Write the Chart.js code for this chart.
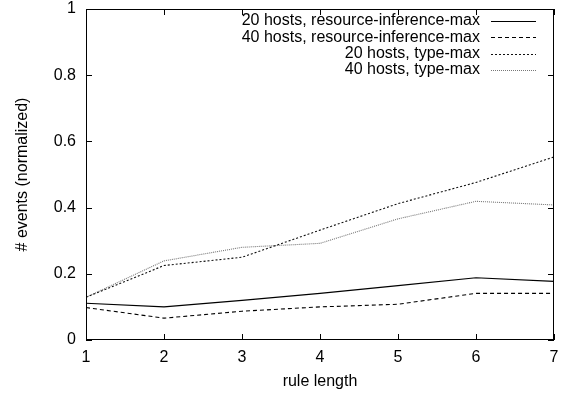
<!DOCTYPE html>
<html>
<head>
<meta charset="utf-8">
<script src="https://cdn.jsdelivr.net/npm/chart.js@4/dist/chart.umd.min.js"></script>
<style>
  body { margin: 0; background: #fff; }
  #wrap { width: 575px; height: 394px; }
</style>
</head>
<body>
<div id="wrap"><canvas id="ruleChart" width="575" height="394"></canvas></div>
<script>
// rule length on x, normalized event count on y
const ruleLengths = [1, 2, 3, 4, 5, 6, 7];
const hosts20ResInf = [0.111, 0.100, 0.120, 0.141, 0.164, 0.188, 0.177];
const hosts40ResInf = [0.098, 0.066, 0.087, 0.100, 0.108, 0.141, 0.141];
const hosts20Type = [0.129, 0.225, 0.250, 0.332, 0.412, 0.476, 0.553];
const hosts40Type = [0.129, 0.239, 0.280, 0.292, 0.366, 0.419, 0.408];
const yTicks = [0, 0.2, 0.4, 0.6, 0.8, 1];

const FONT = 'Liberation Sans, Arial, Helvetica, sans-serif';
const FS = 16;

function pts(vals) {
    return ruleLengths.map((x, i) => ({ x: x, y: vals[i] }));
}

// gnuplot style frame: full box with inward ticks on every side, legend top right
const framePlugin = {
    id: 'frame',
    afterDatasetsDraw(chart) {
        const ctx = chart.ctx;
        const a = chart.chartArea;
        const xs = chart.scales.x, ys = chart.scales.y;
        ctx.save();
        ctx.strokeStyle = '#000';
        ctx.lineWidth = 1;
        ctx.setLineDash([]);
        ctx.strokeRect(a.left + 0.5, a.top + 0.5, a.right - a.left - 1, a.bottom - a.top - 1);
        ctx.beginPath();
        const t = 6;
        ruleLengths.forEach(v => {
            const px = Math.round(xs.getPixelForValue(v)) + 0.5;
            ctx.moveTo(px, a.bottom); ctx.lineTo(px, a.bottom - t);
            ctx.moveTo(px, a.top); ctx.lineTo(px, a.top + t);
        });
        yTicks.forEach(v => {
            const py = Math.round(ys.getPixelForValue(v)) + 0.5;
            ctx.moveTo(a.left, py); ctx.lineTo(a.left + t, py);
            ctx.moveTo(a.right, py); ctx.lineTo(a.right - t, py);
        });
        ctx.stroke();

        // legend: text right aligned, line sample to the right of it
        ctx.font = FS + 'px ' + FONT;
        ctx.textAlign = 'right';
        ctx.textBaseline = 'middle';
        ctx.fillStyle = '#000';
        chart.data.datasets.forEach((ds, i) => {
            const y = 21 + i * 16.3;
            ctx.fillText(ds.label, 480, y);
            ctx.strokeStyle = ds.borderColor;
            ctx.lineWidth = ds.borderWidth;
            ctx.setLineDash(ds.borderDash || []);
            ctx.beginPath();
            ctx.moveTo(491, Math.round(y) + 0.5);
            ctx.lineTo(536, Math.round(y) + 0.5);
            ctx.stroke();
        });
        ctx.restore();
    }
};

new Chart(document.getElementById('ruleChart'), {
    type: 'line',
    data: {
        datasets: [{
            label: '20 hosts, resource-inference-max',
            data: pts(hosts20ResInf),
            borderColor: '#000',
            borderWidth: 1.2
        }, {
            label: '40 hosts, resource-inference-max',
            data: pts(hosts40ResInf),
            borderColor: '#000',
            borderWidth: 1.1,
            borderDash: [4, 3]
        }, {
            label: '20 hosts, type-max',
            data: pts(hosts20Type),
            borderColor: '#111',
            borderWidth: 1.1,
            borderDash: [2, 2]
        }, {
            label: '40 hosts, type-max',
            data: pts(hosts40Type),
            borderColor: '#777',
            borderWidth: 1.1,
            borderDash: [1, 1]
        }]
    },
    options: {
        responsive: false,
        animation: false,
        layout: { padding: { top: 9, right: 21, bottom: 0, left: 0 } },
        elements: { point: { radius: 0 }, line: { tension: 0, fill: false } },
        plugins: {
            legend: { display: false },
            tooltip: { enabled: false }
        },
        scales: {
            x: {
                type: 'linear',
                min: 1,
                max: 7,
                afterFit: s => { s.height = 54; s.paddingLeft = 0; s.paddingRight = 0; },
                grid: { display: false, drawTicks: false },
                border: { display: false },
                ticks: {
                    stepSize: 1,
                    padding: 8,
                    color: '#000',
                    font: { family: FONT, size: FS }
                },
                title: {
                    display: true,
                    text: 'rule length',
                    color: '#000',
                    font: { family: FONT, size: FS },
                    padding: { top: 4, bottom: 3 }
                }
            },
            y: {
                min: 0,
                max: 1,
                afterFit: s => { s.width = 86; s.paddingTop = 0; s.paddingBottom = 0; },
                afterBuildTicks: s => { s.ticks = yTicks.map(v => ({ value: v })); },
                grid: { display: false, drawTicks: false },
                border: { display: false },
                ticks: {
                    padding: 10,
                    color: '#000',
                    font: { family: FONT, size: FS },
                    callback: v => String(v)
                },
                title: {
                    display: true,
                    text: '# events (normalized)',
                    color: '#000',
                    font: { family: FONT, size: FS },
                    padding: { top: 13, bottom: 0 }
                }
            }
        }
    },
    plugins: [framePlugin]
});
</script>
</body>
</html>
